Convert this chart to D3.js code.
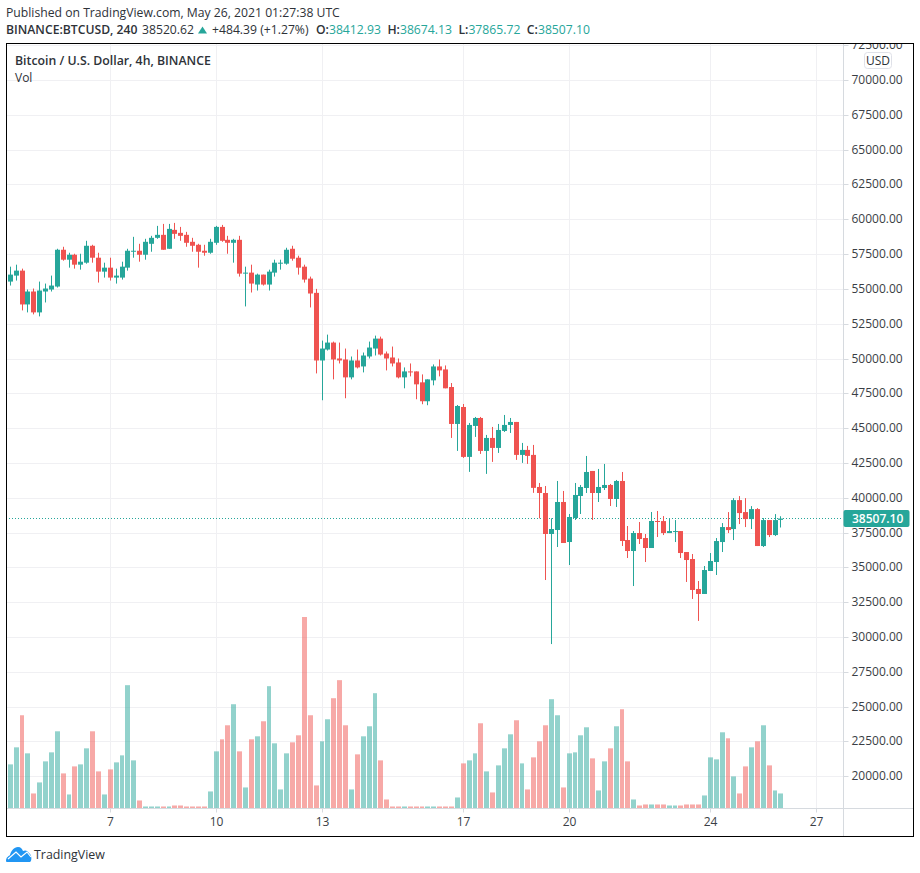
<!DOCTYPE html>
<html>
<head>
<meta charset="utf-8">
<script src="https://cdn.jsdelivr.net/npm/d3@7"></script>
<style>
    body { margin: 0; background: #fff; }
    text { font-family: "Open Sans", sans-serif; fill: #2e3238; }
    .axisText { font-size: 12px; }
    .domain { display: none; }
</style>
</head>
<body>
<div id="chart"></div>
<script>
// 4h candles
var opens = [
    55525,55954,56311,53883,54811,53312,54811,54954,55168,57810,
    57096,57453,56739,56882,58096,57239,56239,56525,55811,55811,
    56525,57667,57739,57453,58238,58667,58881,57881,59238,59024,
    58881,58381,58167,57739,57596,58310,59452,58524,58310,58524,
    56096,56168,55311,56025,55311,56168,56810,56810,57881,57239,
    56596,55739,54715,49860,50645,51145,50002,49931,48646,49860,
    49431,50145,50716,51430,50359,50074,49717,48646,49074,49074,
    48289,46932,48432,49431,49217,47954,45301,46520,42935,45158,
    45731,43365,44297,43580,44799,45230,45445,43079,43437,43079,
    40776,40344,37399,37686,39698,36824,38548,40129,40704,41925,
    40344,40704,40919,39913,41207,36968,36177,37470,37111,36393,
    38333,38327,37467,37539,37610,36105,35603,33452,33093,34742,
    35388,36822,37897,37754,39833,38973,38471,39188,36535,38399,
    37323,38412.93
];
var highs = [
    56596,56739,56453,54954,55025,55525,55382,55954,57881,58024,
    57596,57524,57524,58453,58167,57596,56882,57239,56453,56953,
    57881,58738,58238,58595,58810,59524,59666,59666,59738,59452,
    59095,58667,58238,58167,58595,59524,59595,58810,58595,58810,
    56596,56739,56096,56025,56382,57096,57096,57953,58096,57382,
    56739,55882,55000,51288,51716,51216,51145,50716,50145,50645,
    50431,51216,51645,51573,50502,50859,50002,49360,49645,49074,
    48860,48503,49574,49931,49503,48241,46664,46735,45373,45803,
    45803,44513,45086,45301,45947,45731,45445,43939,43724,43795,
    41063,40847,38524,41207,40488,38836,41063,40919,43003,41925,
    42069,42428,40991,41279,41853,37973,37614,38261,37399,38979,
    39051,38686,38542,38399,37610,36105,35961,34025,35101,36033,
    37108,38184,38973,39976,40120,39976,39403,39259,38542,38399,
    38829,38674.13
];
var lows = [
    55240,55597,53455,53312,53169,53026,54026,54811,55097,57025,
    56525,56453,56382,56810,56882,55454,55811,55597,55382,55668,
    56311,57239,56953,57096,57667,58595,57810,57881,58595,58453,
    58024,57667,56525,57382,57524,58167,58381,57524,56882,55882,
    53740,54740,54883,55240,54883,55882,56382,56739,57025,56025,
    55454,53669,48931,47004,50574,48503,49645,47147,48503,49288,
    49003,50002,50217,50217,49146,49431,48574,47861,48717,47075,
    46718,46647,48075,48717,47861,44297,43365,42863,41860,44369,
    43150,41716,42577,43222,44728,44656,42720,42505,42433,40354,
    38524,34094,29495,36465,36752,35171,38405,38836,40344,38405,
    39698,40560,39410,39338,36536,35674,33662,36680,35387,36393,
    37183,37323,37467,36822,35674,33954,32735,31157,33093,34742,
    34455,36105,37467,36965,38112,37897,37754,36535,36463,37180,
    37252,37865.72
];
var closes = [
    56025,56311,53883,54811,53312,54883,55025,55240,57810,57096,
    57453,56739,56953,58096,57239,56239,56525,55811,55954,56596,
    57739,57739,57453,58381,58667,58881,57810,59309,58952,58810,
    58310,58096,57667,57596,58381,59452,58453,58310,58524,56096,
    56168,55382,56025,55311,56239,56882,56882,57810,57167,56525,
    55668,54668,49860,50716,51145,49931,49860,48646,49860,49360,
    50217,50788,51430,50288,50002,49645,48646,49074,49003,48146,
    46932,48503,49431,49146,47861,45301,46592,42935,45230,45731,
    43365,44297,43580,44871,45230,45445,43079,43437,43007,40712,
    40344,37399,37758,39698,36752,38620,40201,40776,41853,40344,
    40776,40919,39913,41207,36896,36177,37470,37039,36393,38333,
    38261,37467,37610,37610,36033,35531,33380,33093,34814,35459,
    36893,37897,37682,39833,38901,38471,39188,36535,38399,37323,
    38399,38507.10
];
var volumes = [
    4400,6100,9300,5500,1500,2600,4700,5600,7700,3500,
    1400,4200,4400,6000,7700,3700,1400,3900,4600,5300,
    12300,4800,800,200,200,200,200,200,300,300,
    200,200,200,200,1700,5700,6900,8300,10400,5700,
    2100,6900,7200,8700,12200,6500,1900,5500,6600,7300,
    19100,9300,2300,6700,8900,11000,12800,8300,1900,5400,
    7200,8200,11500,4800,900,200,200,200,200,200,
    200,200,200,200,200,200,1100,4500,4800,5500,
    8500,3700,1600,4300,6000,7400,8800,4500,1900,5100,
    6700,8300,10900,9300,2100,5500,5600,7300,8100,5000,
    1800,4700,6000,8200,9900,4700,900,300,400,400,
    400,400,300,300,300,400,400,400,1300,5100,
    4900,7600,7000,3200,1500,4200,6100,6700,8300,4300,
    1800,1500
];

// candle index where each day label sits
var dayTicks = [17, 35, 53, 77, 95, 119, 137];
var dayLabels = ["7", "10", "13", "17", "20", "24", "27"];
var priceTicks = d3.range(20000, 72501, 2500);
var lastPrice = 38507.10;

var green = "#26a69a";
var red = "#ef5350";

var svgWidth = 920;
var svgHeight = 873;
var frame = { left: 6.5, top: 43.5, right: 913.5, bottom: 836.5 };
var axisX = 843.5;
var axisY = 808.5;

var svg = d3.select("#chart")
    .append("svg")
    .attr("width", svgWidth)
    .attr("height", svgHeight)
    .style("display", "block");

// Clip everything to the chart frame
svg.append("clipPath").attr("id", "frameClip")
    .append("rect")
    .attr("x", frame.left)
    .attr("y", frame.top)
    .attr("width", frame.right - frame.left)
    .attr("height", frame.bottom - frame.top);

var xScale = d3.scaleLinear().domain([0, 137]).range([10.25, 816.25]);
var yScale = d3.scaleLinear().domain([20000, 70000]).range([776.3, 80]);
var volScale = d3.scaleLinear().domain([0, 19100]).range([axisY, 617]);

// Snap to whole pixels so the 1px marks stay sharp
var xPix = i => Math.floor(xScale(i));
var lastY = Math.floor(yScale(lastPrice));

var plot = svg.append("g").attr("clip-path", "url(#frameClip)");

// Gridlines
plot.append("g").selectAll("line")
    .data(priceTicks)
    .enter()
    .append("line")
    .attr("x1", frame.left)
    .attr("x2", axisX)
    .attr("y1", d => Math.round(yScale(d)) + 0.5)
    .attr("y2", d => Math.round(yScale(d)) + 0.5)
    .attr("stroke", "#f0f0f3");

plot.append("g").selectAll("line")
    .data(dayTicks)
    .enter()
    .append("line")
    .attr("x1", d => xPix(d) + 0.5)
    .attr("x2", d => xPix(d) + 0.5)
    .attr("y1", frame.top)
    .attr("y2", axisY)
    .attr("stroke", "#f0f0f3");

// Volume bars
plot.append("g").selectAll("rect")
    .data(volumes)
    .enter()
    .append("rect")
    .attr("x", (d, i) => xPix(i) - 2)
    .attr("width", (d, i) => xPix(i + 1) - xPix(i) - 1)
    .attr("y", d => volScale(d))
    .attr("height", d => axisY - volScale(d))
    .attr("fill", (d, i) => closes[i] >= opens[i] ? green : red)
    .attr("opacity", 0.5);

// Last price line
plot.append("line")
    .attr("x1", 6)
    .attr("x2", axisX)
    .attr("y1", lastY + 0.5)
    .attr("y2", lastY + 0.5)
    .attr("stroke", green)
    .attr("stroke-dasharray", "1 2");

// Candles
var candles = plot.append("g").selectAll("g")
    .data(opens)
    .enter()
    .append("g");

candles.append("line")
    .attr("x1", (d, i) => xPix(i) + 0.5)
    .attr("x2", (d, i) => xPix(i) + 0.5)
    .attr("y1", (d, i) => yScale(highs[i]))
    .attr("y2", (d, i) => yScale(lows[i]))
    .attr("stroke", (d, i) => closes[i] >= opens[i] ? green : red);

candles.append("rect")
    .attr("x", (d, i) => xPix(i) - 2)
    .attr("width", 5)
    .attr("y", (d, i) => yScale(Math.max(opens[i], closes[i])))
    .attr("height", (d, i) => Math.max(1, Math.abs(yScale(opens[i]) - yScale(closes[i]))))
    .attr("fill", (d, i) => closes[i] >= opens[i] ? green : red);

// Axes
var rightAxis = d3.axisRight(yScale)
    .tickValues(priceTicks)
    .tickSize(5)
    .tickPadding(3)
    .tickFormat(d3.format(".2f"));

var bottomAxis = d3.axisBottom(xScale)
    .tickValues(dayTicks)
    .tickSize(4)
    .tickPadding(5)
    .tickFormat((d, i) => dayLabels[i]);

var axisGroup = svg.append("g").attr("clip-path", "url(#frameClip)");

axisGroup.append("g")
    .attr("transform", `translate(${axisX}, 0)`)
    .call(rightAxis)
    .call(g => g.selectAll(".tick").attr("transform", d => `translate(0, ${Math.round(yScale(d)) + 0.5})`))
    .call(g => g.selectAll("line").attr("stroke", "#d6dadf"))
    .call(g => g.selectAll("text").attr("class", "axisText").style("fill", "#3a3e45"));

axisGroup.append("g")
    .attr("transform", `translate(0, ${axisY})`)
    .call(bottomAxis)
    .call(g => g.selectAll(".tick").attr("transform", d => `translate(${xPix(d) + 0.5}, 0)`))
    .call(g => g.selectAll("line").attr("stroke", "#d6dadf"))
    .call(g => g.selectAll("text").attr("class", "axisText").style("fill", "#3a3e45"));

axisGroup.append("line")
    .attr("x1", axisX).attr("x2", axisX)
    .attr("y1", frame.top).attr("y2", frame.bottom)
    .attr("stroke", "#d6dadf");

axisGroup.append("line")
    .attr("x1", frame.left).attr("x2", frame.right)
    .attr("y1", axisY).attr("y2", axisY)
    .attr("stroke", "#d6dadf");

// Last price tag
svg.append("rect")
    .attr("x", axisX)
    .attr("y", lastY - 8)
    .attr("width", 66)
    .attr("height", 17)
    .attr("rx", 2)
    .attr("fill", green);

svg.append("text")
    .attr("x", 852)
    .attr("y", lastY + 4.5)
    .style("fill", "#fff")
    .style("font-size", "12px")
    .style("font-weight", "600")
    .text(d3.format(".2f")(lastPrice));

// USD badge
svg.append("rect")
    .attr("x", 864.5)
    .attr("y", 52.5)
    .attr("width", 27)
    .attr("height", 16)
    .attr("rx", 3)
    .attr("fill", "#fff")
    .attr("stroke", "#dfe1e8");

svg.append("text")
    .attr("x", 878)
    .attr("y", 65)
    .attr("text-anchor", "middle")
    .style("font-size", "12px")
    .text("USD");

// Frame
svg.append("rect")
    .attr("x", frame.left)
    .attr("y", frame.top)
    .attr("width", frame.right - frame.left)
    .attr("height", frame.bottom - frame.top)
    .attr("fill", "none")
    .attr("stroke", "#000");

// Legend inside the chart
svg.append("text")
    .attr("x", 15)
    .attr("y", 65)
    .style("font-size", "12.3px")
    .style("font-weight", "600")
    .text("Bitcoin / U.S. Dollar, 4h, BINANCE");

svg.append("text")
    .attr("x", 15)
    .attr("y", 82)
    .style("font-size", "12px")
    .text("Vol");

// Header lines
svg.append("text")
    .attr("x", 6)
    .attr("y", 17)
    .style("font-size", "12.2px")
    .text("Published on TradingView.com, May 26, 2021 01:27:38 UTC");

var infoLine = svg.append("g").style("font-size", "12.2px");

infoLine.append("text").attr("x", 6).attr("y", 34)
    .style("font-weight", "600")
    .text("BINANCE:BTCUSD, 240");

infoLine.append("text").attr("x", 142).attr("y", 34).text("38520.62");

infoLine.append("path")
    .attr("d", "M198 33.5 L202.5 26.5 L207 33.5 Z")
    .attr("fill", green);

infoLine.append("text").attr("x", 212).attr("y", 34).text("+484.39 (+1.27%)");

var ohlcLabels = ["O:", "H:", "L:", "C:"];
var ohlcValues = ["38412.93", "38674.13", "37865.72", "38507.10"];

// one text so the four pairs flow after each other
var ohlcText = infoLine.append("text").attr("x", 316).attr("y", 34);

ohlcLabels.forEach((label, i) => {
    ohlcText.append("tspan")
        .attr("dx", i == 0 ? 0 : 6.5)
        .style("font-weight", "600")
        .text(label);
    ohlcText.append("tspan").style("fill", green).text(ohlcValues[i]);
});

// TradingView logo
var logo = svg.append("g").attr("transform", "translate(6, 846)");

logo.append("path")
    .attr("d", "M0 15 C0 11 3 10 4 9 C5 5 8 1 12 1 C15 1 16 3 17 5 C19 4 21 4 23 7 C26 9 26 15 24 16 L2 16 C1 16 0 16 0 15 Z")
    .attr("fill", "#2196f3");

logo.append("path")
    .attr("d", "M2 13 L10 6 L15 11 L21 6 L25 11")
    .attr("fill", "none")
    .attr("stroke", "#fff")
    .attr("stroke-width", 1.2);

svg.append("text")
    .attr("x", 34)
    .attr("y", 859)
    .style("font-size", "12.4px")
    .text("TradingView");
</script>
</body>
</html>
